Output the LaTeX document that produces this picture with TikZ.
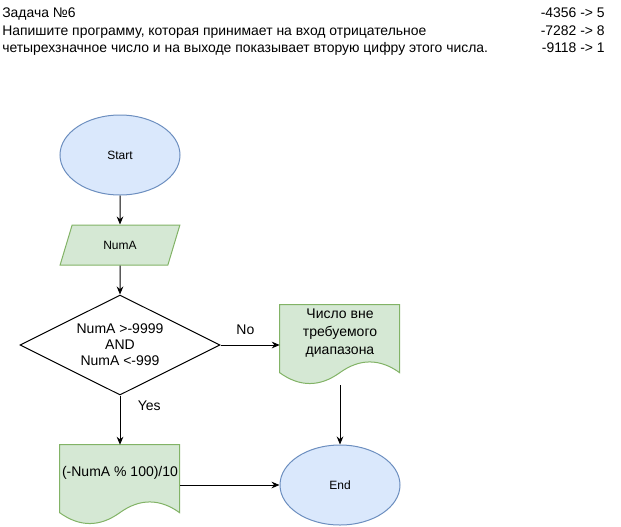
\documentclass[tikz,border=0pt]{standalone}
\usepackage{fontspec}
\setmainfont{Liberation Sans}
\usepackage{tikz}
\usetikzlibrary{shapes.geometric, arrows.meta, positioning, calc}
\definecolor{termfill}{HTML}{DAE8FC}
\definecolor{termedge}{HTML}{6C8EBF}
\definecolor{iofill}{HTML}{D5E8D4}
\definecolor{ioedge}{HTML}{82B366}

\tikzset{
  flow/.style={draw=black, line width=0.75pt, -{Stealth[length=6pt, width=5pt]}},
  termnode/.style={ellipse, draw=termedge, fill=termfill, line width=0.75pt, minimum width=90pt, minimum height=60pt, inner sep=0pt, font=\fontsize{9}{11}\selectfont},
  inputnode/.style={trapezium, trapezium left angle=63.43, trapezium right angle=116.57, trapezium stretches=true, draw=ioedge, fill=iofill, line width=0.75pt, minimum width=90pt, minimum height=30pt, inner sep=0pt, font=\fontsize{9}{11}\selectfont},
  decision/.style={diamond, aspect=2, draw=black, fill=white, line width=0.75pt, minimum width=150pt, minimum height=75pt, inner sep=0pt, align=center, font=\fontsize{10.5}{12}\selectfont},
  docbox/.style={rectangle, minimum width=90pt, minimum height=60pt, inner sep=0pt},
  doctext/.style={align=center, inner sep=0pt, font=\fontsize{10.5}{13.5}\selectfont},
  lbl/.style={inner sep=0pt, font=\fontsize{10.5}{12}\selectfont},
  header/.style={inner sep=0pt, font=\fontsize{10.45}{12}\selectfont}
}

% wavy document outline drawn over an empty box node
\newcommand{\docpath}[1]{%
  \begin{scope}[shift={(#1.north west)}]
    \filldraw[draw=ioedge, fill=iofill, line width=0.75pt] (0,0) -- (120,0) -- (120,68)
      .. controls (100,53.6) and (80,53.6) .. (60,68)
      .. controls (40,82.4) and (20,82.4) .. (0,68) -- cycle;
  \end{scope}}

\begin{document}
\begin{tikzpicture}[x=0.75pt, y=-0.75pt]
  \useasboundingbox (0,0) rectangle (621,526);

  % Task text
  \node[header, anchor=base west] (task1) at (2,17.5) {Задача №6};
  \node[header, anchor=base west] (task2) at (2,35) {Напишите программу, которая принимает на вход отрицательное};
  \node[header, anchor=base west] (task3) at (2,52.5) {четырехзначное число и на выходе показывает вторую цифру этого числа.};
  \node[header, anchor=base east] (ex1) at (605,17.5) {-4356 -> 5};
  \node[header, anchor=base east] (ex2) at (605,35) {-7282 -> 8};
  \node[header, anchor=base east] (ex3) at (605,52.5) {-9118 -> 1};

  % Flowchart
  \node[termnode] (start) at (120,155) {Start};
  \node[inputnode] (numa) at (120,245) {NumA};
  \node[decision] (check) at (120,345) {NumA >-9999\\AND\\NumA <-999};

  \node[docbox] (doc1) at (340,345) {};
  \docpath{doc1}
  \node[doctext] (doc1txt) at ([yshift=9pt]doc1.center) {Число вне\\требуемого\\диапазона};

  \node[docbox] (doc2) at (120,485) {};
  \docpath{doc2}
  \node[doctext] (doc2txt) at ([yshift=9pt]doc2.center) {(-NumA \% 100)/10};

  \node[termnode] (end) at (340,485) {End};

  % Connectors
  \draw[flow] (start) -- (numa);
  \draw[flow] (numa) -- (check);
  \draw[flow] (check.east) -- (doc1.west) node[lbl, pos=0.42, anchor=south, yshift=7.5pt] (no) {No};
  \draw[flow] (check.south) -- (doc2.north) node[lbl, pos=0.3, anchor=base west, xshift=13pt] (yes) {Yes};
  \draw[flow] (doc1.south) -- (end.north);
  \draw[flow] (doc2.east) -- (end.west);
\end{tikzpicture}
\end{document}
